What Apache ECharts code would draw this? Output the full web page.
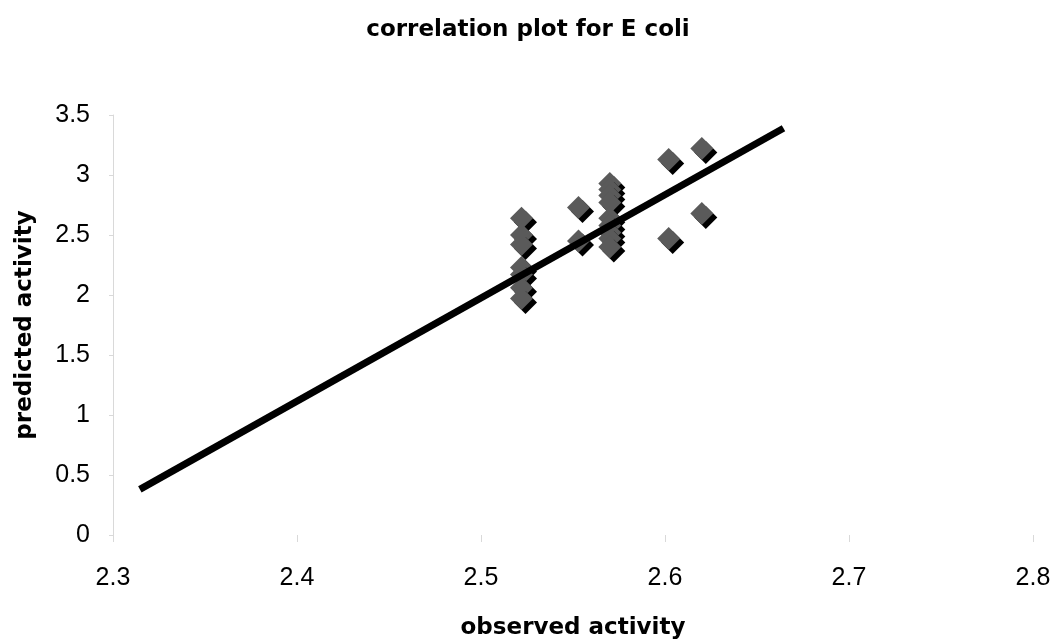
<!DOCTYPE html>
<html>
<head>
<meta charset="utf-8">
<script src="https://cdn.jsdelivr.net/npm/echarts@6/dist/echarts.min.js"></script>
<style>html,body{margin:0;padding:0;background:#fff}#c{width:1056px;height:640px}</style>
</head>
<body>
<div id="c"></div>
<script>
var titleText = 'correlation plot for E coli';
var xName = 'observed activity';
var yName = 'predicted activity';
var xTicks = [2.3, 2.4, 2.5, 2.6, 2.7, 2.8];
var yTicks = [0, 0.5, 1, 1.5, 2, 2.5, 3, 3.5];
var observed = [2.522, 2.522, 2.522, 2.522, 2.522, 2.522, 2.522,
                2.553, 2.553,
                2.570, 2.570, 2.570, 2.570, 2.570, 2.570, 2.570, 2.570, 2.570,
                2.602, 2.620, 2.620, 2.602];
var predicted = [2.64, 2.50, 2.42, 2.23, 2.17, 2.06, 1.97,
                 2.73, 2.45,
                 2.93, 2.88, 2.83, 2.77, 2.64, 2.58, 2.52, 2.47, 2.40,
                 3.13, 3.22, 2.68, 2.47];
var trendX = [2.3146, 2.6644];
var trendY = [0.38, 3.39];

var pts = observed.map(function (x, i) { return [x, predicted[i]]; });
var trend = trendX.map(function (x, i) { return [x, trendY[i]]; });

var nameFont = { fontFamily: 'DejaVu Sans', fontWeight: 'bold', fontSize: 23, color: '#000' };
var tickFont = 'Liberation Sans, Arial';

var chart = echarts.init(document.getElementById('c'));
chart.setOption({
  backgroundColor: '#fff',
  animation: false,
  title: {
    text: titleText, left: 'center', top: 14,
    textStyle: { fontFamily: 'DejaVu Sans', fontWeight: 'bold', fontSize: 23, color: '#000' }
  },
  grid: { left: 113, right: 23, top: 115, bottom: 105, containLabel: false, outerBoundsMode: 'none' },
  xAxis: {
    type: 'value', min: 2.3, max: 2.8, interval: 0.1,
    name: xName, nameLocation: 'middle', nameGap: 82,
    nameTextStyle: nameFont,
    axisLine: { show: false },
    axisTick: { show: true, length: 7, lineStyle: { color: '#d9d9d9' } },
    splitLine: { show: false },
    axisLabel: { margin: 31, fontFamily: tickFont, fontSize: 25, color: '#000',
      formatter: function (v) { var f = xTicks.find(function (t) { return Math.abs(t - v) < 1e-6; }); return f !== undefined ? f.toFixed(1) : ''; } }
  },
  yAxis: {
    type: 'value', min: 0, max: 3.5, interval: 0.5,
    name: yName, nameLocation: 'middle', nameGap: 76, nameRotate: 90,
    nameTextStyle: nameFont,
    axisLine: { show: true, lineStyle: { color: '#d9d9d9', width: 1 } },
    axisTick: { show: true, length: 4, lineStyle: { color: '#d9d9d9' } },
    splitLine: { show: false },
    axisLabel: { margin: 23, fontFamily: tickFont, fontSize: 25, color: '#000',
      formatter: function (v) { var f = yTicks.find(function (t) { return Math.abs(t - v) < 1e-6; }); return f !== undefined ? String(f) : ''; } }
  },
  series: [
    {
      type: 'scatter', data: pts, symbol: 'diamond', symbolSize: 23, z: 2,
      itemStyle: { color: '#5a5a5a', shadowColor: '#000', shadowBlur: 0, shadowOffsetX: 4, shadowOffsetY: 4, opacity: 1 }
    },
    {
      type: 'line', data: trend, showSymbol: false, symbol: 'none', z: 5,
      lineStyle: { color: '#000', width: 7 }
    }
  ]
});
</script>
</body>
</html>
